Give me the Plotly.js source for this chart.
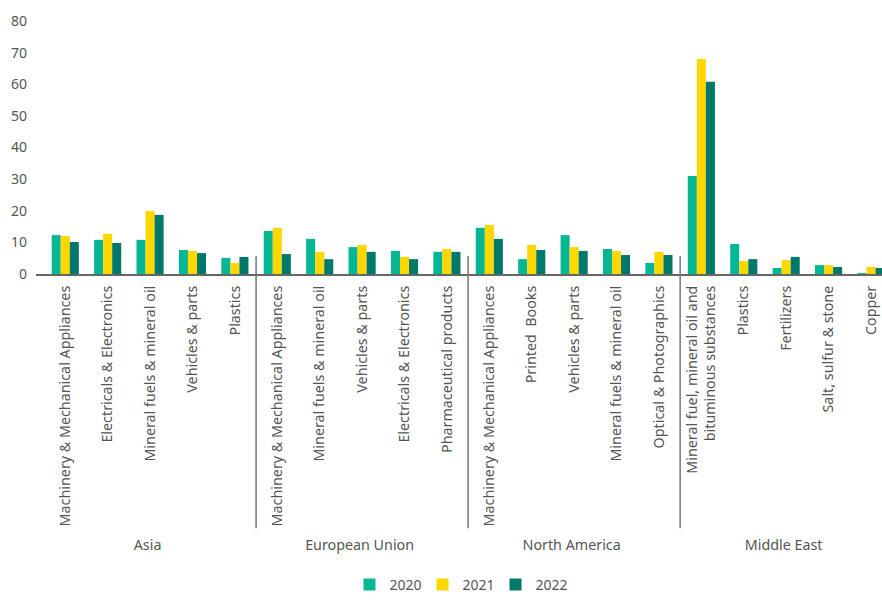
<!DOCTYPE html>
<html>
<head>
<meta charset="utf-8">
<script src="https://cdn.plot.ly/plotly-3.0.1.min.js"></script>
<style>html,body{margin:0;padding:0;background:#fff;}#chart{width:882px;height:601px;}</style>
</head>
<body>
<div id="chart"></div>
<script>
const regions = ["Asia","Asia","Asia","Asia","Asia",
  "European Union","European Union","European Union","European Union","European Union",
  "North America","North America","North America","North America","North America",
  "Middle East","Middle East","Middle East","Middle East","Middle East"];
const products = ["Machinery & Mechanical Appliances","Electricals & Electronics","Mineral fuels & mineral oil","Vehicles & parts","Plastics",
  "Machinery & Mechanical Appliances","Mineral fuels & mineral oil","Vehicles & parts","Electricals & Electronics","Pharmaceutical products",
  "Machinery & Mechanical Appliances","Printed  Books","Vehicles & parts","Mineral fuels & mineral oil","Optical & Photographics",
  "Mineral fuel, mineral oil and<br>bituminous substances","Plastics","Fertilizers","Salt, sulfur & stone","Copper"];
const v2020 = [12.3,10.8,10.8,7.6,5.1, 13.6,11.1,8.5,7.3,7.0, 14.6,4.7,12.3,7.9,3.5, 31.0,9.5,1.9,2.8,0.3];
const v2021 = [12.0,12.7,19.9,7.3,3.5, 14.6,7.0,9.2,5.4,7.9, 15.5,9.2,8.5,7.3,7.0, 68.0,4.1,4.4,2.8,2.2];
const v2022 = [10.1,9.8,18.7,6.6,5.4, 6.3,4.7,7.0,4.7,7.0, 11.1,7.6,7.3,6.0,6.0, 60.8,4.7,5.4,2.2,1.9];
const years = ["2020","2021","2022"];
const colors = ["#05B794","#FED600","#00796B"];

// keep each region's product labels distinct so Plotly keeps the given order
const groupNames = [...new Set(regions)];
const productKeys = products.map((p, i) => p + "\u200b".repeat(groupNames.indexOf(regions[i])));

const series = [v2020, v2021, v2022];
const traces = series.map((vals, i) => ({
  type: "bar",
  name: years[i],
  x: [regions, productKeys],
  y: vals,
  marker: {color: colors[i]},
  hoverinfo: "y+name"
}));

// dividers between regions
const shapes = [];
let idx = 0;
groupNames.forEach((g, gi) => {
  idx += regions.filter(r => r === g).length;
  if (gi < groupNames.length - 1) {
    shapes.push({type: "line", xref: "x", yref: "paper",
      x0: idx - 0.5, x1: idx - 0.5, y0: 0.071, y1: -1.005,
      line: {color: "#777", width: 1.5}});
  }
});

const layout = {
  width: 882, height: 601,
  margin: {l: 36, r: 0, t: 21, b: 327, autoexpand: false},
  paper_bgcolor: "#fff", plot_bgcolor: "#fff",
  font: {family: "Noto Sans, sans-serif", color: "#555", size: 14},
  barmode: "group",
  bargap: 0.36,
  bargroupgap: 0,
  xaxis: {
    type: "multicategory",
    range: [-0.69, 19.26],
    automargin: false,
    tickangle: -90,
    showline: true, linecolor: "#666", linewidth: 2,
    ticks: "",
    showdividers: false,
    tickfont: {size: 14.3, color: "#555"},
    ticklabelstandoff: 4,
    showgrid: false
  },
  yaxis: {
    range: [0, 80], dtick: 10,
    automargin: false,
    showgrid: false, zeroline: false, showline: false,
    ticks: "",
    tickfont: {size: 14, color: "#555"},
    ticklabelstandoff: 8
  },
  shapes: shapes,
  showlegend: true,
  legend: {
    orientation: "h",
    x: 0.5, xanchor: "center",
    yref: "container", y: 0, yanchor: "bottom",
    font: {size: 14, color: "#555"},
    entrywidth: 28,
    traceorder: "normal"
  }
};

Plotly.newPlot("chart", traces, layout, {displayModeBar: false, staticPlot: true});
</script>
</body>
</html>
